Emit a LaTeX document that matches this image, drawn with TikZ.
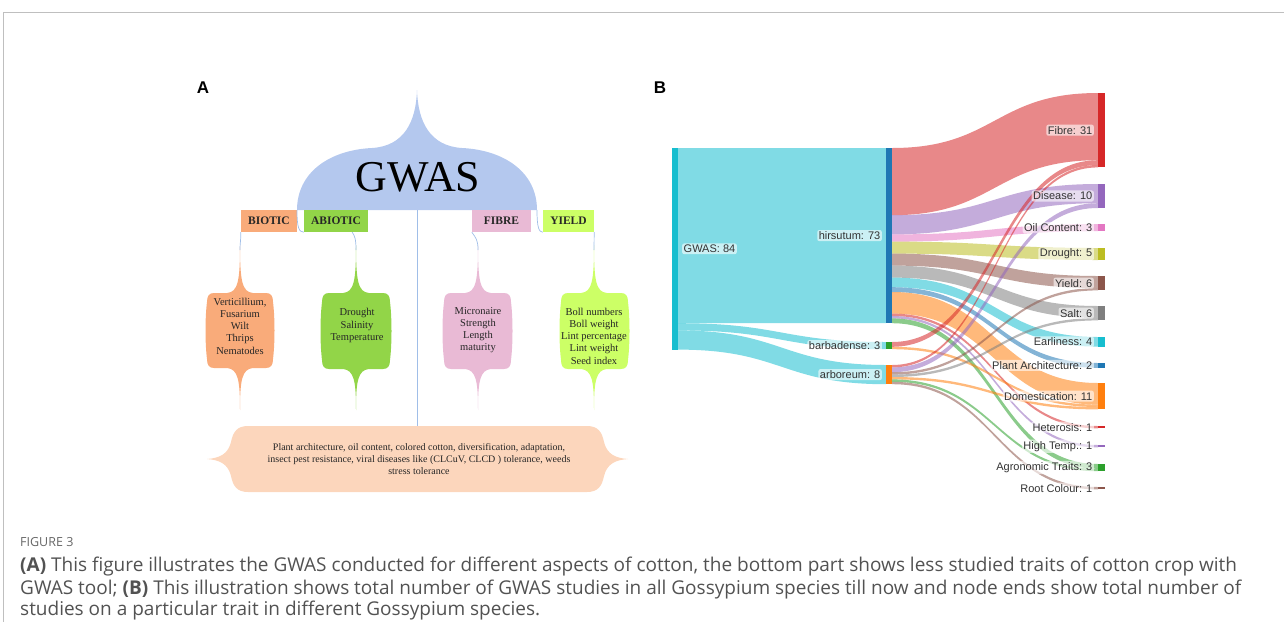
\documentclass[tikz,border=0pt]{standalone}
\usepackage{fontspec}
\setmainfont{Liberation Serif}
\setsansfont{Liberation Sans}
\newfontfamily\capfont{Open Sans}
\definecolor{domec}{RGB}{180,200,238}
\definecolor{connc}{RGB}{160,190,232}
\definecolor{bioc}{RGB}{249,171,122}
\definecolor{abic}{RGB}{146,213,72}
\definecolor{fibc}{RGB}{233,186,213}
\definecolor{yldc}{RGB}{204,255,102}
\definecolor{botc}{RGB}{252,214,188}
\definecolor{cBlue}{HTML}{1F77B4}
\definecolor{cOrange}{HTML}{FF7F0E}
\definecolor{cGreen}{HTML}{2CA02C}
\definecolor{cRed}{HTML}{D62728}
\definecolor{cPurple}{HTML}{9467BD}
\definecolor{cBrown}{HTML}{8C564B}
\definecolor{cPink}{HTML}{E377C2}
\definecolor{cGray}{HTML}{7F7F7F}
\definecolor{cOlive}{HTML}{BCBD22}
\definecolor{cCyan}{HTML}{17BECF}
\newcommand\ribbon[7]{%
 \pgfmathsetmacro\xm{(#1+#2)/2}%
 \fill[#7,fill opacity=0.55] (#1,#3) .. controls (\xm,#3) and (\xm,#5) .. (#2,#5) -- (#2,#6) .. controls (\xm,#6) and (\xm,#4) .. (#1,#4) -- cycle;}
\newcommand\leafshape[8]{% cx L R T B st sb color
 \fill[#8] (#1,#6) .. controls (#1,#4-12) and (#1-2,#4-1) .. (#1-13,#4) -- (#2+6,#4) .. controls (#2+1,#4) and (#2-1,#4+3) .. (#2-1,#4+9) .. controls (#2-3,#4+25) and (#2-3,#5-25) .. (#2-1,#5-9) .. controls (#2-1,#5-3) and (#2+1,#5) .. (#2+6,#5) -- (#1-13,#5) .. controls (#1-2,#5+1) and (#1,#5+12) .. (#1,#7) .. controls (#1,#5+12) and (#1+2,#5+1) .. (#1+13,#5) -- (#3-6,#5) .. controls (#3-1,#5) and (#3+1,#5-3) .. (#3+1,#5-9) .. controls (#3+3,#5-25) and (#3+3,#4+25) .. (#3+1,#4+9) .. controls (#3+1,#4+3) and (#3-1,#4) .. (#3-6,#4) -- (#1+13,#4) .. controls (#1+2,#4-1) and (#1,#4-12) .. (#1,#6) -- cycle;}
\begin{document}
\begin{tikzpicture}[x=1pt,y=-1pt,
  conn/.style={draw=connc, line width=0.7pt},
  catbox/.style={inner sep=0pt, minimum height=22pt, font=\bfseries\fontsize{11.5}{13}\selectfont, text=black!85},
  leaftext/.style={align=center, font=\fontsize{10.5}{12.2}\selectfont, text=black!85},
  lab/.style={font=\sffamily\fontsize{11}{13}\selectfont, text=black!80, fill=white, fill opacity=0.6, text opacity=1, rounded corners=2pt, inner sep=1.5pt},
  panel/.style={font=\sffamily\bfseries\fontsize{17}{19}\selectfont},
  captext/.style={anchor=west, inner sep=0pt, font=\capfont\fontsize{19}{22}\selectfont, text=black!68},
]
\useasboundingbox (0,0) rectangle (1284,622);
% frame
\draw[black!25, line width=1pt] (1284,12) -- (3,12) -- (3,622);

% ================= Panel A =================
\node[panel] (pA) at (203,88) {A};
\fill[domec] (297,210) .. controls (297,172) and (330,150) .. (372,148) .. controls (404,146) and (416,122) .. (417,90) .. controls (418,122) and (430,146) .. (462,148) .. controls (504,150) and (537,172) .. (537,210) -- cycle;
\node[font=\fontsize{44}{48}\selectfont] (gwasA) at (418,177) {GWAS};
\coordinate (domeL) at (297,210);
\coordinate (domeR) at (537,210);
\coordinate (domeC) at (417,210);

\node[catbox, fill=bioc, minimum width=56pt] (biotic) at (269,221) {BIOTIC};
\node[catbox, fill=abic, minimum width=64pt] (abiotic) at (336,221) {ABIOTIC};
\node[catbox, fill=fibc, minimum width=59pt] (fibre) at (501.5,221) {FIBRE};
\node[catbox, fill=yldc, minimum width=51pt] (yield) at (568.5,221) {YIELD};

% leaves
\leafshape{240}{208}{272}{293}{368}{245}{410}{bioc}
\leafshape{356}{323}{389}{293}{369}{245}{410}{abic}
\leafshape{478}{445}{510}{293}{369}{245}{410}{fibc}
\leafshape{594}{562}{627}{293}{369}{245}{410}{yldc}
\coordinate (bioTop) at (240,250);
\coordinate (abiTop) at (356,250);
\coordinate (fibTop) at (478,250);
\coordinate (yldTop) at (594,250);

\node[leaftext] (tbio) at (240,326) {Verticillium,\\Fusarium\\Wilt\\Thrips\\Nematodes};
\node[leaftext] (tabi) at (357,325.5) {Drought\\Salinity\\Temperature};
\node[leaftext] (tfib) at (478,330) {Micronaire\\Strength\\Length\\maturity};
\node[leaftext] (tyld) at (594,336) {Boll numbers\\Boll weight\\Lint percentage\\Lint weight\\Seed index};

% connectors
\draw[conn] (domeL) .. controls (297,228) and (299,232) .. (abiotic.south west);
\draw[conn] (domeR) .. controls (537,228) and (539,232) .. (yield.south west);
\draw[conn] (biotic.south west) .. controls (241,240) and (240,242) .. (bioTop);
\draw[conn] ([xshift=-16pt]abiotic.south east) .. controls (355,236) and (356,240) .. (abiTop);
\draw[conn] (fibre.south west) .. controls (476,238) and (478,240) .. (fibTop);
\draw[conn] (yield.south east) -- (yldTop);

% bottom box
\fill[botc] (248,426) -- (587,426) .. controls (598,426) and (602,432) .. (604,442) .. controls (607,454) and (615,458) .. (628,459) .. controls (615,460) and (607,464) .. (604,476) .. controls (602,486) and (598,492) .. (587,492) -- (248,492) .. controls (237,492) and (233,486) .. (231,476) .. controls (228,464) and (220,460) .. (207,459) .. controls (220,458) and (228,454) .. (231,442) .. controls (233,432) and (237,426) .. (248,426) -- cycle;
\coordinate (botTop) at (417,426);
\draw[conn] (domeC) -- (botTop);
\node[leaftext, font=\fontsize{10}{12}\selectfont] (tbot) at (419,459) {Plant architecture, oil content, colored cotton, diversification, adaptation,\\insect pest resistance, viral diseases like (CLCuV, CLCD ) tolerance, weeds\\stress tolerance};

% ================= Panel B =================
\node[panel] (pB) at (660,88) {B};
% level 1 flows
\ribbon{678}{886}{148}{323.2}{148}{323.2}{cCyan}
\ribbon{678}{886}{323.2}{330.4}{342}{349.2}{cCyan}
\ribbon{678}{886}{330.4}{349.6}{365}{384.2}{cCyan}
% hirsutum flows
\ribbon{892}{1098}{148}{215.2}{93}{160.2}{cRed}
\ribbon{892}{1098}{215.2}{234.4}{184}{203.2}{cPurple}
\ribbon{892}{1098}{234.4}{241.6}{224}{231.2}{cPink}
\ribbon{892}{1098}{241.6}{253.6}{248}{260}{cOlive}
\ribbon{892}{1098}{253.6}{265.6}{276}{288}{cBrown}
\ribbon{892}{1098}{265.6}{277.6}{306}{318}{cGray}
\ribbon{892}{1098}{277.6}{287.2}{337}{346.6}{cCyan}
\ribbon{892}{1098}{287.2}{292}{363}{367.8}{cBlue}
\ribbon{892}{1098}{292}{313.6}{383}{404.6}{cOrange}
\ribbon{892}{1098}{313.6}{316}{426}{428.4}{cRed}
\ribbon{892}{1098}{316}{318.4}{445}{447.4}{cPurple}
\ribbon{892}{1098}{318.4}{323.2}{464}{468.8}{cGreen}
% barbadense flows
\ribbon{892}{1098}{342}{346.8}{160.2}{165}{cRed}
\ribbon{892}{1098}{346.8}{349.2}{404.6}{407}{cOrange}
% arboreum flows
\ribbon{892}{1098}{365}{367.4}{165}{167.4}{cRed}
\ribbon{892}{1098}{367.4}{372.2}{203.2}{208}{cPurple}
\ribbon{892}{1098}{372.2}{374.6}{288}{290.4}{cBrown}
\ribbon{892}{1098}{374.6}{377}{318}{320.4}{cGray}
\ribbon{892}{1098}{377}{379.4}{407}{409.4}{cOrange}
\ribbon{892}{1098}{379.4}{381.8}{468.8}{471.2}{cGreen}
\ribbon{892}{1098}{381.8}{384.2}{487}{489.4}{cBrown}
% node bars
\fill[cCyan] (672,148) rectangle (678,349.6);
\fill[cBlue] (886,148) rectangle (892,323.2);
\fill[cGreen] (886,342) rectangle (892,349.2);
\fill[cOrange] (886,365) rectangle (892,384.2);
\fill[cRed] (1098,93) rectangle (1105,167.4);
\fill[cPurple] (1098,184) rectangle (1105,208);
\fill[cPink] (1098,224) rectangle (1105,231.2);
\fill[cOlive] (1098,248) rectangle (1105,260);
\fill[cBrown] (1098,276) rectangle (1105,290.4);
\fill[cGray] (1098,306) rectangle (1105,320.4);
\fill[cCyan] (1098,337) rectangle (1105,346.6);
\fill[cBlue] (1098,363) rectangle (1105,367.8);
\fill[cOrange] (1098,383) rectangle (1105,409.4);
\fill[cRed] (1098,426) rectangle (1105,428.4);
\fill[cPurple] (1098,445) rectangle (1105,447.4);
\fill[cGreen] (1098,464) rectangle (1105,471.2);
\fill[cBrown] (1098,487) rectangle (1105,489.4);
% labels
\node[lab, anchor=west] (lGWAS) at (682,248.8) {GWAS: 84};
\node[lab, anchor=east] (lhir) at (882,235.6) {hirsutum: 73};
\node[lab, anchor=east] (lbar) at (882,345.6) {barbadense: 3};
\node[lab, anchor=east] (larb) at (882,374.6) {arboreum: 8};
\node[lab, anchor=east] (lFib) at (1094,130.2) {Fibre: 31};
\node[lab, anchor=east] (lDis) at (1094,196) {Disease: 10};
\node[lab, anchor=east] (lOil) at (1094,227.6) {Oil Content: 3};
\node[lab, anchor=east] (lDro) at (1094,254) {Drought: 5};
\node[lab, anchor=east] (lYie) at (1094,283.2) {Yield: 6};
\node[lab, anchor=east] (lSal) at (1094,313.2) {Salt: 6};
\node[lab, anchor=east] (lEar) at (1094,341.8) {Earliness: 4};
\node[lab, anchor=east] (lPla) at (1094,365.4) {Plant Architecture: 2};
\node[lab, anchor=east] (lDom) at (1094,396.2) {Domestication: 11};
\node[lab, anchor=east] (lHet) at (1094,427.2) {Heterosis: 1};
\node[lab, anchor=east] (lHig) at (1094,446.2) {High Temp.: 1};
\node[lab, anchor=east] (lAgr) at (1094,467.6) {Agronomic Traits: 3};
\node[lab, anchor=east] (lRoo) at (1094,488.2) {Root Colour: 1};

% ================= Caption =================
\node[anchor=west, inner sep=0pt, font=\capfont\fontsize{12.5}{14}\selectfont, text=black!60] (fig) at (20,542) {FIGURE 3};
\node[captext] (cap1) at (20,567) {\textbf{(A)} This figure illustrates the GWAS conducted for different aspects of cotton, the bottom part shows less studied traits of cotton crop with};
\node[captext] (cap2) at (20,589.5) {GWAS tool; \textbf{(B)} This illustration shows total number of GWAS studies in all Gossypium species till now and node ends show total number of};
\node[captext] (cap3) at (20,611) {studies on a particular trait in different Gossypium species.};
\end{tikzpicture}
\end{document}
